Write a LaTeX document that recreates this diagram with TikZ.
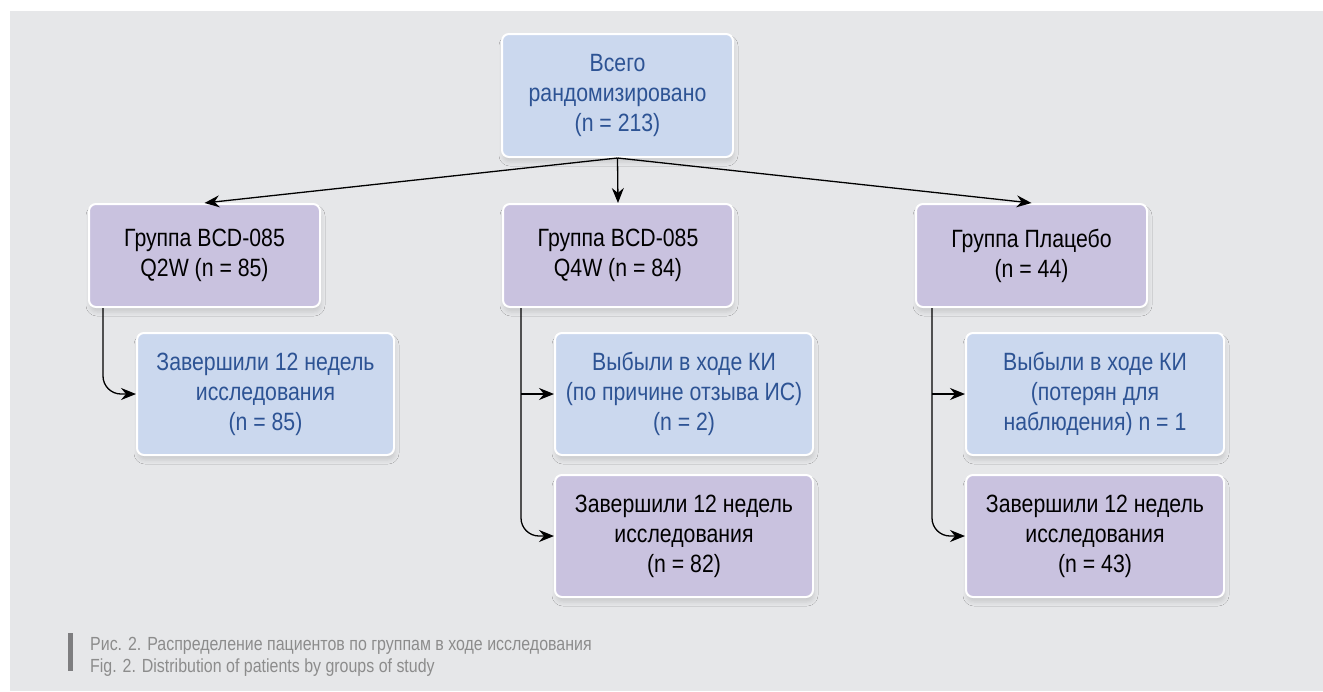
\documentclass[tikz,border=0pt]{standalone}
\usepackage{fontspec}
\setmainfont{Liberation Sans}[FakeStretch=0.85]
\newfontfamily\capfont{Liberation Sans}[FakeStretch=0.84]
\usetikzlibrary{arrows.meta,shadows.blur}
\definecolor{bgc}{HTML}{E6E7E9}
\definecolor{bluefill}{HTML}{CBD8EE}
\definecolor{purplefill}{HTML}{C9C2DF}
\definecolor{bluetext}{HTML}{2D5394}
\definecolor{captext}{HTML}{8C8C8C}
\definecolor{capbar}{HTML}{7E7E80}
\tikzset{
  box/.style={draw=white, line width=2pt, rounded corners=7pt, align=center,
    inner sep=0pt, font=\fontsize{25}{30}\selectfont,
    blur shadow={shadow xshift=1pt, shadow yshift=-5pt, shadow blur radius=4pt, shadow opacity=12}},
  bluebox/.style={box, fill=bluefill, text=bluetext},
  purplebox/.style={box, fill=purplefill, text=black},
  conn/.style={draw=black, line width=1.3pt, -{Stealth[length=15pt,width=12pt,inset=5pt]}},
}
\begin{document}
\begin{tikzpicture}[x=1pt,y=-1pt]
\useasboundingbox (0,0) rectangle (1323,691);
\fill[white] (0,0) rectangle (1323,691);
\fill[bgc] (10,11) rectangle (1323,691);

\node[bluebox, minimum width=231pt, minimum height=123pt] (top) at (617.5,95.5)
  {Всего\\рандомизировано\\(n = 213)};

\node[purplebox, minimum width=231pt, minimum height=103pt] (g1) at (204.5,255.5)
  {Группа BCD-085\\Q2W (n = 85)};
\node[purplebox, minimum width=230pt, minimum height=103pt] (g2) at (618,255.5)
  {Группа BCD-085\\Q4W (n = 84)};
\node[purplebox, minimum width=231pt, minimum height=103pt] (g3) at (1031.5,255.5)
  {Группа Плацебо\\(n = 44)};

\node[bluebox, minimum width=257pt, minimum height=122pt] (s1) at (265.5,394)
  {Завершили 12 недель\\исследования\\(n = 85)};
\node[bluebox, minimum width=258pt, minimum height=122pt] (m1) at (684,394)
  {Выбыли в ходе КИ\\(по причине отзыва ИС)\\(n = 2)};
\node[purplebox, minimum width=258pt, minimum height=122pt] (m2) at (684,536)
  {Завершили 12 недель\\исследования\\(n = 82)};
\node[bluebox, minimum width=258pt, minimum height=122pt] (r1) at (1095,394)
  {Выбыли в ходе КИ\\(потерян для\\наблюдения) n = 1};
\node[purplebox, minimum width=258pt, minimum height=122pt] (r2) at (1095,536)
  {Завершили 12 недель\\исследования\\(n = 43)};

% top connectors
\draw[conn] (top.south) -- (g1.north);
\draw[conn] (top.south) -- (g2.north);
\draw[conn] (top.south) -- (g3.north);

% branch coordinates
\coordinate (b1) at ([xshift=15pt]g1.south west);
\coordinate (b2) at ([xshift=19pt]g2.south west);
\coordinate (b3) at ([xshift=17pt]g3.south west);

\draw[conn, rounded corners=18pt] (b1) |- (s1.west);
\draw[conn] (b2 |- m1.west) -- (m1.west);
\draw[conn, rounded corners=18pt] (b2) |- (m2.west);
\draw[conn] (b3 |- r1.west) -- (r1.west);
\draw[conn, rounded corners=18pt] (b3) |- (r2.west);

% caption
\fill[capbar] (68,633) rectangle (73,671);
\node[anchor=base west, inner sep=0pt, text=captext, font=\capfont\fontsize{19}{22}\selectfont] (cap1) at (90,650)
  {Рис. 2. Распределение пациентов по группам в ходе исследования};
\node[anchor=base west, inner sep=0pt, text=captext, font=\capfont\fontsize{19}{22}\selectfont] (cap2) at (90,672)
  {Fig. 2. Distribution of patients by groups of study};
\end{tikzpicture}
\end{document}
